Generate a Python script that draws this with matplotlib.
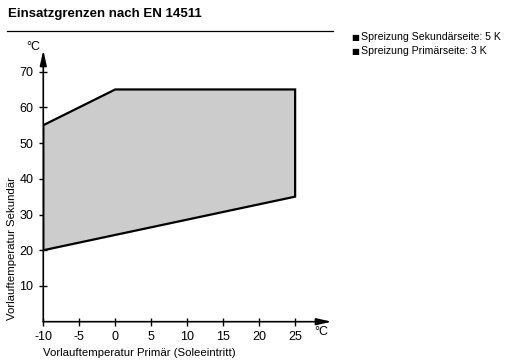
import matplotlib
matplotlib.use("Agg")
import matplotlib.pyplot as plt

plt.rcParams['font.family'] = ['Liberation Sans', 'DejaVu Sans']

# Einsatzgrenzen (Primär °C, Sekundär °C)
prim = [-10, -10, 0, 25, 25, -10]
sek = [20, 55, 65, 65, 35, 20]
xticks = [-10, -5, 0, 5, 10, 15, 20, 25]
yticks = [10, 20, 30, 40, 50, 60, 70]
notes = ["Spreizung Sekundärseite: 5 K", "Spreizung Primärseite: 3 K"]

fig = plt.figure(figsize=(5.08, 3.64), dpi=100)
ax = fig.add_axes([0.0852, 0.1162, 0.568, 0.746])

ax.fill(prim, sek, facecolor="#cccccc", edgecolor="black", linewidth=1.6, zorder=2)
ax.set_xlim(-10, 30.1)
ax.set_ylim(0, 76)

for s in ax.spines.values():
    s.set_visible(False)
# axes with arrows
ax.annotate("", xy=(1.0, 0), xytext=(0, 0), xycoords="axes fraction",
            arrowprops=dict(arrowstyle="-|>,head_length=0.9,head_width=0.2", color="black", lw=1.2,
                            shrinkA=0, shrinkB=0))
ax.annotate("", xy=(0, 1.0), xytext=(0, 0), xycoords="axes fraction",
            arrowprops=dict(arrowstyle="-|>,head_length=0.9,head_width=0.2", color="black", lw=1.2,
                            shrinkA=0, shrinkB=0))

ax.set_xticks(xticks)
ax.set_yticks(yticks)
ax.tick_params(direction="inout", length=6, width=1, labelsize=9, pad=4)
ax.set_xticklabels([str(t) for t in xticks])

ax.text(0.965, -0.037, "°C", transform=ax.transAxes, ha="center", va="center", fontsize=9)
ax.text(-0.01, 1.012, "°C", transform=ax.transAxes, ha="right", va="center", fontsize=9)

ax.set_xlabel("Vorlauftemperatur Primär (Soleeintritt)", fontsize=8.2, loc="left", labelpad=3)
ax.set_ylabel("Vorlauftemperatur Sekundär", fontsize=8.2, loc="bottom")
ax.yaxis.set_label_coords(-0.092, 0.005)

fig.text(0.016, 0.962, "Einsatzgrenzen nach EN 14511", fontsize=9.5, fontweight="bold", va="center")
fig.add_artist(plt.Line2D([0.014, 0.655], [0.915, 0.915], color="black", lw=0.9))

for i, n in enumerate(notes):
    y = 0.898 - i * 0.039
    fig.text(0.691, y, "■", fontsize=6, va="center", family=["DejaVu Sans"])
    fig.text(0.711, y, n, fontsize=7.6, va="center")

fig.savefig("out.png", dpi=100)
